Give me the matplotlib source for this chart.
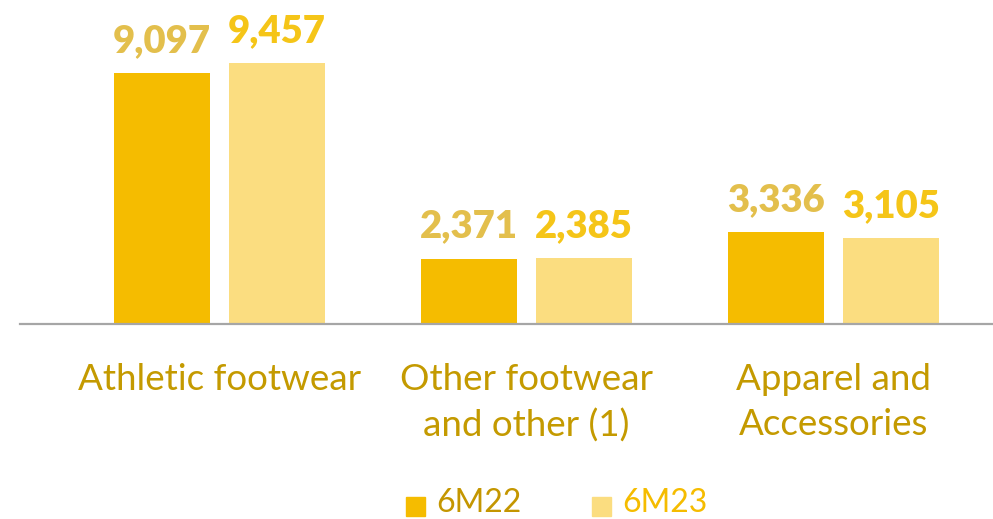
import matplotlib.pyplot as plt
import numpy as np

categories = ['Athletic footwear', 'Other footwear\nand other (1)', 'Apparel and\nAccessories']
series_names = ['6M22', '6M23']
values_6m22 = [9097, 2371, 3336]
values_6m23 = [9457, 2385, 3105]

bar_colors = ['#F5BC00', '#FBDD80']
label_colors = ['#E3BF4C', '#F5C518']
legend_text_colors = ['#C49600', '#F5BC00']
cat_color = '#C49A00'

fig = plt.figure(figsize=(9.93, 5.19), dpi=100)
ax = fig.add_axes([20 / 993, (519 - 324) / 519, 973 / 993, 324 / 519])

x = np.arange(len(categories))
w = 96 / 307
off = 115 / 2 / 307
for vals, dx, bc, lc in [(values_6m22, -off, bar_colors[0], label_colors[0]),
                         (values_6m23, off, bar_colors[1], label_colors[1])]:
    ax.bar(x + dx, vals, width=w, color=bc, zorder=2)
    for xi, v in zip(x + dx, vals):
        ax.annotate(f'{v:,}', (xi, v), xytext=(0, 11), textcoords='offset points',
                    ha='center', va='bottom', fontsize=27.5, fontweight='heavy',
                    family='Lato', color=lc)

ax.set_xlim((20 - 219.5) / 307, (993 - 219.5) / 307)
ax.set_ylim(0, 324 / 0.02759)
for s in ['top', 'left', 'right']:
    ax.spines[s].set_visible(False)
ax.spines['bottom'].set_color('#A6A6A6')
ax.spines['bottom'].set_linewidth(1.6)
ax.set_yticks([])
ax.set_xticks(x)
ax.set_xticklabels(categories, fontsize=26.5, family='Lato', color=cat_color, linespacing=1.45)
ax.tick_params(axis='x', length=0, pad=28)

# legend
for i, name in enumerate(series_names):
    px = 406 + i * 186
    fig.patches.append(plt.Rectangle((px / 993, (519 - 516) / 519), 19 / 993, 19 / 519,
                                     transform=fig.transFigure, color=bar_colors[i]))
    fig.text((px + 30) / 993, (519 - 503) / 519, name, fontsize=23, family='Lato',
             color=legend_text_colors[i], va='center', ha='left')

fig.savefig('out.png', dpi=100)
